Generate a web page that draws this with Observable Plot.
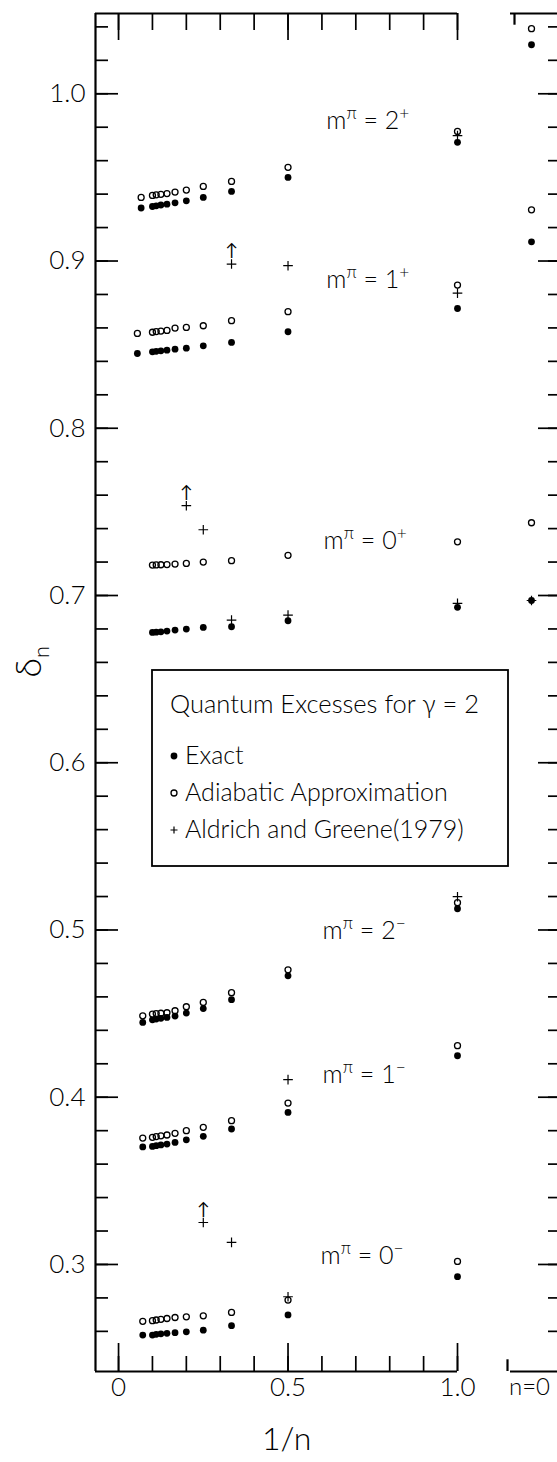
<!DOCTYPE html>
<html>
<head>
<meta charset="utf-8">
<script src="https://cdn.jsdelivr.net/npm/d3@7"></script>
<script src="https://cdn.jsdelivr.net/npm/@observablehq/plot@0.6"></script>
<style>
  html, body { margin: 0; padding: 0; background: #fff; }
  #wrap { position: relative; width: 557px; height: 1462px; overflow: hidden; background: #fff;
          font-family: Lato, "DejaVu Sans", sans-serif; font-weight: 300; color: #000; }
  #wrap > svg { position: absolute; left: 0; top: 0; }
  .lbl { position: absolute; white-space: nowrap; line-height: 1; font-family: Lato, "DejaVu Sans", sans-serif; font-weight: 300; }
</style>
</head>
<body>
<div id="wrap"></div>
<script>
// ---------------- DATA ----------------
// m^pi = 2+
const n_2p     = [1, 2, 3, 4, 5, 6, 7, 8, 9, 10, 15];
const exact_2p = [0.971, 0.950, 0.9416, 0.938, 0.936, 0.9348, 0.9340, 0.9335, 0.9330, 0.9326, 0.9317];
const adiab_2p = [0.9775, 0.956, 0.9476, 0.9446, 0.9424, 0.9412, 0.9403, 0.9399, 0.9396, 0.9392, 0.938];
const agN_2p   = [1];
const ag_2p    = [0.975];
// m^pi = 1+
const n_1p     = [1, 2, 3, 4, 5, 6, 7, 8, 9, 10, 18];
const exact_1p = [0.8716, 0.8577, 0.8513, 0.8493, 0.8479, 0.8473, 0.8467, 0.8463, 0.8460, 0.8457, 0.8447];
const adiab_1p = [0.8856, 0.8697, 0.8643, 0.8613, 0.8603, 0.8599, 0.8585, 0.8581, 0.8578, 0.8574, 0.8567];
const agN_1p   = [1, 2, 3];
const ag_1p    = [0.8808, 0.8972, 0.8982];
// m^pi = 0+
const n_0p     = [1, 2, 3, 4, 5, 6, 7, 8, 9, 10];
const exact_0p = [0.6929, 0.6849, 0.6813, 0.6809, 0.6799, 0.6793, 0.6787, 0.6783, 0.6781, 0.6779];
const adiab_0p = [0.7321, 0.724, 0.7208, 0.720, 0.7192, 0.7188, 0.7185, 0.7184, 0.7183, 0.7182];
const agN_0p   = [1, 2, 3, 4, 5];
const ag_0p    = [0.6953, 0.6883, 0.6853, 0.7393, 0.7537];
// m^pi = 2-
const n_2m     = [1, 2, 3, 4, 5, 6, 7, 8, 9, 10, 14];
const exact_2m = [0.5127, 0.4726, 0.4583, 0.4530, 0.4503, 0.4485, 0.4477, 0.4472, 0.4467, 0.4463, 0.4447];
const adiab_2m = [0.5163, 0.4762, 0.4625, 0.4567, 0.4541, 0.4517, 0.4505, 0.4502, 0.4500, 0.4497, 0.4487];
const agN_2m   = [1];
const ag_2m    = [0.5199];
// m^pi = 1-
const n_1m     = [1, 2, 3, 4, 5, 6, 7, 8, 9, 10, 14];
const exact_1m = [0.4248, 0.3909, 0.381, 0.3766, 0.3745, 0.3730, 0.3720, 0.3715, 0.3710, 0.3706, 0.3703];
const adiab_1m = [0.4308, 0.3965, 0.3860, 0.382, 0.380, 0.3784, 0.3774, 0.3769, 0.3765, 0.3760, 0.3756];
const agN_1m   = [2];
const ag_1m    = [0.4105];
// m^pi = 0-
const n_0m     = [1, 2, 3, 4, 5, 6, 7, 8, 9, 10, 14];
const exact_0m = [0.2927, 0.2698, 0.2634, 0.2607, 0.2597, 0.2592, 0.2588, 0.2585, 0.2582, 0.2578, 0.2578];
const adiab_0m = [0.3018, 0.2787, 0.2713, 0.2693, 0.2687, 0.2683, 0.2677, 0.2672, 0.2668, 0.2664, 0.2660];
const agN_0m   = [2, 3, 4];
const ag_0m    = [0.2807, 0.3132, 0.3251];
// Aldrich-Greene values that lie beyond (marked with an arrow): [series, n]
const arrowSeries = ["1+", "0+", "0−"];
const arrowN      = [3, 5, 4];

// n = 0 panel
const zeroSeries = ["2+", "1+", "0+"];
const zeroExact  = [1.0293, 0.9115, 0.697];
const zeroAdiab  = [1.0389, 0.9306, 0.7435];
const zeroAG     = [null, null, 0.697];

// labels
const seriesNames  = ["2+", "1+", "0+", "2−", "1−", "0−"];
const seriesLabels = ["m^π = 2^+", "m^π = 1^+", "m^π = 0^+", "m^π = 2^−", "m^π = 1^−", "m^π = 0^−"];
const labelX       = [0.613, 0.613, 0.605, 0.602, 0.602, 0.596];
const labelY       = [0.9839, 0.8888, 0.7327, 0.4996, 0.4134, 0.3052];

// axes ticks
const yMinor = d3.range(13, 53).map(i => +(i * 0.02).toFixed(2));
const yMajor = [0.3, 0.4, 0.5, 0.6, 0.7, 0.8, 0.9, 1.0];
const xMinor = d3.range(0, 11).map(i => i / 10);
const xMajor = [0, 0.5, 1.0];

// ---------------- TABLES ----------------
const seriesArrays = [
  [n_2p, exact_2p, adiab_2p, agN_2p, ag_2p],
  [n_1p, exact_1p, adiab_1p, agN_1p, ag_1p],
  [n_0p, exact_0p, adiab_0p, agN_0p, ag_0p],
  [n_2m, exact_2m, adiab_2m, agN_2m, ag_2m],
  [n_1m, exact_1m, adiab_1m, agN_1m, ag_1m],
  [n_0m, exact_0m, adiab_0m, agN_0m, ag_0m]
];
const exactRows = [], adiabRows = [], agRows = [];
seriesArrays.forEach(([ns, ex, ad, agn, ag], i) => {
  ns.forEach((n, j) => {
    exactRows.push({s: seriesNames[i], n, v: ex[j]});
    adiabRows.push({s: seriesNames[i], n, v: ad[j]});
  });
  agn.forEach((n, j) => {
    const arrow = arrowSeries.some((s, k) => s === seriesNames[i] && arrowN[k] === n);
    agRows.push({s: seriesNames[i], n, v: ag[j], arrow});
  });
});
const labelRows = seriesLabels.map((t, i) => ({t, x: labelX[i], y: labelY[i]}));
const zeroExactRows = zeroSeries.map((s, i) => ({s, v: zeroExact[i]}));
const zeroAdiabRows = zeroSeries.map((s, i) => ({s, v: zeroAdiab[i]}));
const zeroAGRows = zeroSeries.map((s, i) => ({s, v: zeroAG[i]})).filter(d => d.v != null);

// ---------------- LAYOUT ----------------
const W = 557, H = 1462, mT = 13, mB = 91, mL = 95, mR = 100;
const fw = W - mL - mR, fh = H - mT - mB;
const xDomain = [-0.068, 1.0];
const yDomain = [0.236, 1.048];
const FONT = "Lato, DejaVu Sans, sans-serif";
const fmtX = d => d === 0 ? "0" : d3.format(".1f")(d);

const main = Plot.plot({
  width: W, height: H,
  marginTop: mT, marginBottom: mB, marginLeft: mL, marginRight: mR,
  style: {fontFamily: FONT, fontWeight: 300, background: "transparent", color: "#000"},
  x: {domain: xDomain, label: null},
  y: {domain: yDomain, label: null},
  marks: [
    Plot.ruleX([xDomain[0]], {stroke: "#000", strokeWidth: 2.2}),
    Plot.ruleY(yDomain, {stroke: "#000", strokeWidth: 2.2}),
    Plot.tickY(yMinor, {y: d => d, insetRight: fw - 13, stroke: "#000", strokeWidth: 1.7}),
    Plot.tickY(yMajor, {y: d => d, insetRight: fw - 23, stroke: "#000", strokeWidth: 1.7}),
    Plot.tickX(xMinor, {x: d => d, insetTop: fh - 15, stroke: "#000", strokeWidth: 1.7}),
    Plot.tickX(xMajor, {x: d => d, insetTop: fh - 28, stroke: "#000", strokeWidth: 1.7}),
    Plot.tickX(xMinor, {x: d => d, insetBottom: fh - 17, stroke: "#000", strokeWidth: 1.7}),
    Plot.tickX(xMajor, {x: d => d, insetBottom: fh - 27, stroke: "#000", strokeWidth: 1.7}),
    Plot.axisY(yMajor, {tickSize: 0, tickPadding: 10, tickFormat: d3.format(".1f"), fontSize: 26, fontWeight: 300, label: null}),
    Plot.axisX(xMajor, {tickSize: 0, tickPadding: 6, tickFormat: fmtX, fontSize: 26, fontWeight: 300, label: null}),
    Plot.dot(exactRows, {x: d => 1 / d.n, y: d => d.v, r: 3.4, fill: "#000", stroke: null}),
    Plot.dot(adiabRows, {x: d => 1 / d.n, y: d => d.v, r: 3.0, fill: "none", stroke: "#000", strokeWidth: 1.3}),
    Plot.dot(agRows, {x: d => 1 / d.n, y: d => d.v, symbol: "plus", r: 3.2, stroke: "#000", strokeWidth: 1.2}),
    Plot.text(agRows.filter(d => d.arrow), {x: d => 1 / d.n, y: d => d.v, text: () => "↑", dy: -13, fontSize: 17, fontWeight: 400}),
    Plot.text(labelRows, {x: "x", y: "y", text: "t", textAnchor: "start", fontSize: 25, fontWeight: 300})
  ]
});

const zero = Plot.plot({
  width: W, height: H,
  marginTop: mT, marginBottom: mB, marginLeft: 510, marginRight: 0,
  style: {fontFamily: FONT, fontWeight: 300, background: "transparent", color: "#000"},
  x: {type: "point", domain: ["n=0"], range: [506, 556], label: null},
  y: {domain: yDomain, label: null, axis: null},
  marks: [
    Plot.ruleY(yDomain, {stroke: "#000", strokeWidth: 2.2}),
    Plot.ruleX(["n=0"], {x: d => d, y1: yDomain[1], y2: yDomain[1] - 0.007, dx: -17, stroke: "#000", strokeWidth: 2.2}),
    Plot.ruleX(["n=0"], {x: d => d, y1: yDomain[0], y2: yDomain[0] + 0.007, dx: -24, stroke: "#000", strokeWidth: 2.2}),
    Plot.tickY(yMinor, {y: d => d, insetLeft: 47 - 9, stroke: "#000", strokeWidth: 1.7}),
    Plot.tickY(yMajor, {y: d => d, insetLeft: 47 - 19, stroke: "#000", strokeWidth: 1.7}),
    Plot.axisX(["n=0"], {tickSize: 0, tickPadding: 6, fontSize: 24, fontWeight: 300, dx: -2, label: null}),
    Plot.dot(zeroExactRows, {x: () => "n=0", y: d => d.v, r: 3.4, fill: "#000", stroke: null}),
    Plot.dot(zeroAdiabRows, {x: () => "n=0", y: d => d.v, r: 3.0, fill: "none", stroke: "#000", strokeWidth: 1.3}),
    Plot.dot(zeroAGRows, {x: () => "n=0", y: d => d.v, symbol: "plus", r: 3.2, stroke: "#000", strokeWidth: 1.2})
  ]
});

// superscripts for "^x" segments
const NS = "http://www.w3.org/2000/svg";
function supify(svg) {
  svg.querySelectorAll("text").forEach(t => {
    const s = t.textContent;
    if (!s.includes("^")) return;
    const fs = parseFloat(t.getAttribute("font-size") || getComputedStyle(t).fontSize) || 24;
    t.textContent = "";
    const parts = s.split(/(\^.)/).filter(p => p);
    let raised = false;
    parts.forEach(p => {
      const ts = document.createElementNS(NS, "tspan");
      if (p[0] === "^") {
        ts.textContent = p.slice(1);
        ts.setAttribute("font-size", (fs * 0.72).toFixed(1));
        ts.setAttribute("dy", raised ? 0 : -(fs * 0.42).toFixed(1));
        raised = true;
      } else {
        ts.textContent = p;
        if (raised) ts.setAttribute("dy", (fs * 0.42).toFixed(1));
        raised = false;
      }
      t.appendChild(ts);
    });
  });
}
supify(main);

const wrap = document.getElementById("wrap");
wrap.appendChild(main);
wrap.appendChild(zero);
zero.style.pointerEvents = "none";

// legend box (inside the plot area)
const legendTitle = "Quantum Excesses for γ = 2";
const legendItems = ["Exact", "Adiabatic Approximation", "Aldrich and Greene(1979)"];
const legendSymbols = ["dot", "circle", "plus"];
const lg = d3.select(wrap).append("svg")
  .attr("width", 360).attr("height", 200)
  .style("left", "151px").style("top", "669px")
  .attr("font-family", FONT).attr("font-weight", 300);
lg.append("rect").attr("x", 1).attr("y", 1).attr("width", 356).attr("height", 196)
  .attr("fill", "none").attr("stroke", "#000").attr("stroke-width", 1.8);
lg.append("text").attr("x", 19).attr("y", 44).attr("font-size", 25.5).text(legendTitle);
legendItems.forEach((t, i) => {
  const base = 95 + i * 37;
  const g = lg.append("g");
  if (legendSymbols[i] === "dot") g.append("circle").attr("cx", 23).attr("cy", base - 8).attr("r", 3.4).attr("fill", "#000");
  if (legendSymbols[i] === "circle") g.append("circle").attr("cx", 23).attr("cy", base - 8).attr("r", 3).attr("fill", "none").attr("stroke", "#000").attr("stroke-width", 1.3);
  if (legendSymbols[i] === "plus") g.append("path").attr("d", `M${23 - 3.5},${base - 8}h7M23,${base - 11.5}v7`).attr("stroke", "#000").attr("stroke-width", 1.2);
  g.append("text").attr("x", 34).attr("y", base).attr("font-size", 25).text(t);
});

// axis titles
const yl = document.createElement("div");
yl.className = "lbl";
yl.innerHTML = "δ<sub style='font-size:0.6em'>n</sub>";
Object.assign(yl.style, {left: "15px", top: "640px", fontSize: "36px", transform: "rotate(-90deg)", transformOrigin: "center"});
wrap.appendChild(yl);
const xl = document.createElement("div");
xl.className = "lbl";
xl.textContent = "1/n";
Object.assign(xl.style, {left: "262px", top: "1422px", fontSize: "32px"});
wrap.appendChild(xl);
</script>
</body>
</html>
